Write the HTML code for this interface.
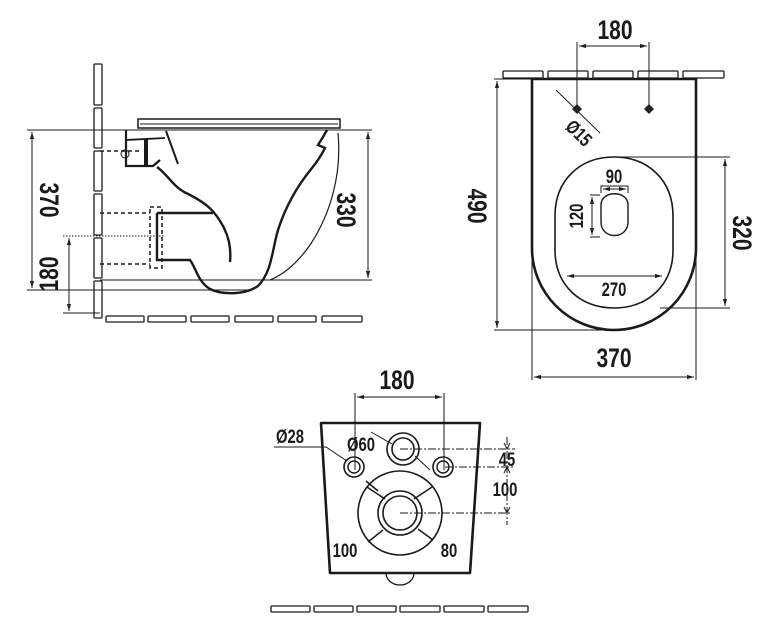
<!DOCTYPE html>
<html><head><meta charset="utf-8"><style>
html,body{margin:0;padding:0;background:#fff;}
svg{display:block;}
text{font-family:"Liberation Sans",sans-serif;font-weight:bold;fill:#1a1a1a;}
</style></head><body>
<svg width="777" height="640" viewBox="0 0 777 640" xmlns="http://www.w3.org/2000/svg">
<defs>
<marker id="a" viewBox="0 0 10 10" refX="10" refY="5" markerWidth="7" markerHeight="7" orient="auto-start-reverse"><path d="M0,2 L10,5 L0,8z" fill="#222"/></marker>
</defs>
<g stroke="#1a1a1a" fill="none">

<!-- SIDE VIEW -->
<g stroke-width="1.3" fill="#fff">
<rect x="94" y="64" width="8" height="41" rx="1"/>
<rect x="94" y="108" width="8" height="40" rx="1"/>
<rect x="94" y="151" width="8" height="40" rx="1"/>
<rect x="94" y="194" width="8" height="41" rx="1"/>
<rect x="94" y="238" width="8" height="40" rx="1"/>
<rect x="94" y="281" width="8" height="37" rx="1"/>
<rect x="106" y="316" width="38" height="6" rx="1"/>
<rect x="148" y="316" width="38" height="6" rx="1"/>
<rect x="191" y="316" width="38" height="6" rx="1"/>
<rect x="235" y="316" width="38" height="6" rx="1"/>
<rect x="278" y="316" width="38" height="6" rx="1"/>
<rect x="322" y="316" width="40" height="6" rx="1"/>
</g>
<g stroke-width="1">
<line x1="27" y1="130" x2="372" y2="130"/>
<line x1="100" y1="280" x2="372" y2="280"/>
<line x1="27" y1="290" x2="250" y2="290"/>
<line x1="63" y1="236" x2="165" y2="236" stroke-dasharray="1.5,1.5"/>
<line x1="63" y1="313" x2="100" y2="313"/>
<line x1="32" y1="132" x2="32" y2="288" marker-start="url(#a)" marker-end="url(#a)"/>
<line x1="69" y1="238" x2="69" y2="311" marker-start="url(#a)" marker-end="url(#a)"/>
<line x1="368" y1="132" x2="368" y2="278" marker-start="url(#a)" marker-end="url(#a)"/>
</g>
<rect x="138" y="119" width="202" height="9" stroke-width="1.5" fill="#fff"/>
<line x1="140" y1="124" x2="338" y2="124" stroke-width="1"/>
<path d="M126,130 L126,166 L153,166 L160,160" stroke-width="2.2"/>
<path d="M126,140 L165,138" stroke-width="1.8"/>
<line x1="146" y1="139" x2="146" y2="166" stroke-width="4"/>
<line x1="100" y1="151" x2="140" y2="151" stroke-width="1.5" stroke-dasharray="4,3"/>
<circle cx="125" cy="154" r="4" stroke-width="1"/>
<path d="M166,131 L178,164" stroke-width="2"/>
<path d="M157,167 C168,175 172,185 184,192 C205,202 215,210 224,228 C230,240 231,252 230,262" stroke-width="2.4"/>
<path d="M157,213 L213,213" stroke-width="2.4"/>
<path d="M157,213 L157,260 L190,260 C196,268 198,282 210,289 C222,295 245,295 258,286 C272,272 272,250 278,230 C286,205 298,185 312,168 C320,158 324,150 325,148 L318,145 L323,137 L327,130" stroke-width="2.4"/>
<path d="M338,133 C342,175 330,215 310,245 C298,262 285,274 270,280" stroke-width="1.2"/>
<rect x="150" y="207" width="12" height="61" stroke-width="1.5" stroke-dasharray="4,3"/>
<line x1="100" y1="213" x2="150" y2="213" stroke-width="1.5" stroke-dasharray="4,3"/>
<line x1="100" y1="264" x2="150" y2="264" stroke-width="1.5" stroke-dasharray="4,3"/>

<!-- TOP VIEW -->
<g stroke-width="1.3" fill="#fff">
<rect x="503" y="71" width="40" height="7" rx="1"/>
<rect x="548" y="71" width="40" height="7" rx="1"/>
<rect x="593" y="71" width="40" height="7" rx="1"/>
<rect x="638" y="71" width="40" height="7" rx="1"/>
<rect x="683" y="71" width="41" height="7" rx="1"/>
</g>
<line x1="494" y1="79" x2="696" y2="79" stroke-width="1"/>
<path d="M532,79 L696,79 L696,248 A82,82 0 0 1 532,248 Z" stroke-width="2.6" fill="#fff"/>
<g stroke-width="1">
<line x1="577" y1="42" x2="577" y2="108"/>
<line x1="649" y1="42" x2="649" y2="108"/>
<line x1="579" y1="46" x2="647" y2="46" marker-start="url(#a)" marker-end="url(#a)"/>
<line x1="556" y1="90" x2="600" y2="133"/>
<line x1="497" y1="81" x2="497" y2="328" marker-start="url(#a)" marker-end="url(#a)"/>
<line x1="494" y1="330" x2="614" y2="330"/>
<line x1="614" y1="157" x2="730" y2="157"/>
<line x1="660" y1="308" x2="730" y2="308"/>
<line x1="725" y1="159" x2="725" y2="306" marker-start="url(#a)" marker-end="url(#a)"/>
<line x1="532" y1="248" x2="532" y2="380"/>
<line x1="696" y1="248" x2="696" y2="380"/>
<line x1="534" y1="377" x2="694" y2="377" marker-start="url(#a)" marker-end="url(#a)"/>
<line x1="567" y1="276" x2="662" y2="276" marker-start="url(#a)" marker-end="url(#a)"/>
<path d="M601,193 L601,186 L628,186 L628,193"/>
<line x1="603" y1="189" x2="626" y2="189" marker-start="url(#a)" marker-end="url(#a)"/>
<path d="M600,195 L590,195 M600,237 L590,237"/>
<line x1="592" y1="197" x2="592" y2="235" marker-start="url(#a)" marker-end="url(#a)"/>
</g>
<path d="M577,104 L582,109 L577,114 L572,109Z" fill="#222" stroke="none"/>
<path d="M649,104 L654,109 L649,114 L644,109Z" fill="#222" stroke="none"/>
<path d="M555,216 C555,180 580,157 614,157 C648,157 673,180 673,216 L673,250 C673,285 648,308 614,308 C580,308 555,285 555,250 Z" stroke-width="1.6"/>
<path d="M601,205 C601,190 628,190 628,205 L628,222 C628,240 601,240 601,222 Z" stroke-width="1.4"/>

<!-- REAR VIEW -->
<g stroke-width="1.3" fill="#fff">
<rect x="271" y="606" width="39" height="6" rx="1"/>
<rect x="314" y="606" width="39" height="6" rx="1"/>
<rect x="357" y="606" width="39" height="6" rx="1"/>
<rect x="400" y="606" width="40" height="6" rx="1"/>
<rect x="444" y="606" width="40" height="6" rx="1"/>
<rect x="488" y="606" width="40" height="6" rx="1"/>
</g>
<path d="M386,573 A14,12 0 0 0 414,573" stroke-width="1.3"/>
<path d="M321,423 L480,423 L470,573 L330,573 Z" stroke-width="2.6" stroke-linejoin="round" fill="#fff"/>
<g stroke-width="1">
<line x1="355" y1="393" x2="355" y2="470"/>
<line x1="444" y1="393" x2="444" y2="470"/>
<line x1="357" y1="397" x2="442" y2="397" marker-start="url(#a)" marker-end="url(#a)"/>
<path d="M274,447 L326,447 L347,461"/>
<line x1="371" y1="432" x2="392" y2="444"/>
<line x1="415" y1="456" x2="430" y2="470"/>
<path d="M400,449 L515,449 M445,467 L515,467 M400,513 L510,513" stroke-dasharray="8,2,2,2"/>
<line x1="507" y1="437" x2="507" y2="525" stroke-dasharray="8,2,2,2"/>
</g>
<path d="M504,443 L507,449 L510,443 M504,473 L507,467 L510,473 M504,507 L507,513 L510,507" stroke-width="1"/>
<circle cx="403" cy="449" r="16" stroke-width="1.6"/>
<circle cx="403" cy="449" r="11" stroke-width="1.6"/>
<circle cx="354" cy="467" r="10" stroke-width="1.6"/>
<circle cx="354" cy="467" r="6" stroke-width="1.4"/>
<circle cx="443" cy="467" r="10" stroke-width="1.6"/>
<circle cx="443" cy="467" r="6" stroke-width="1.4"/>
<circle cx="400" cy="513" r="42" stroke-width="1.6"/>
<circle cx="400" cy="513" r="22" stroke-width="1.6"/>
<circle cx="400" cy="513" r="17" stroke-width="1.6"/>
<g stroke-width="1.5">
<line x1="366" y1="481" x2="378" y2="491"/>
<line x1="367" y1="487" x2="385" y2="499"/>
<line x1="432" y1="487" x2="414" y2="499"/>
<line x1="433" y1="540" x2="418" y2="529"/>
<line x1="368" y1="542" x2="383" y2="530"/>
</g>
</g>

<!-- TEXT -->
<g font-size="27">
<text x="0" y="0" transform="translate(615,39) scale(0.78,1)" text-anchor="middle">180</text>
<text x="0" y="0" transform="translate(397,389) scale(0.78,1)" text-anchor="middle">180</text>
<text x="0" y="0" transform="translate(614,367) scale(0.78,1)" text-anchor="middle">370</text>
<text x="0" y="0" transform="translate(468,206) rotate(90) scale(0.78,1)" text-anchor="middle">490</text>
<text x="0" y="0" transform="translate(733,233) rotate(90) scale(0.78,1)" text-anchor="middle">320</text>
<text x="0" y="0" transform="translate(40,200) rotate(90) scale(0.78,1)" text-anchor="middle">370</text>
<text x="0" y="0" transform="translate(337,210) rotate(90) scale(0.78,1)" text-anchor="middle">330</text>
<text x="0" y="0" transform="translate(58,274) rotate(-90) scale(0.78,1)" text-anchor="middle">180</text>
</g>
<g font-size="19">
<text x="0" y="0" transform="translate(614,183) scale(0.78,1)" text-anchor="middle">90</text>
<text x="0" y="0" transform="translate(614,296) scale(0.78,1)" text-anchor="middle">270</text>
<text x="0" y="0" transform="translate(583,216) rotate(-90) scale(0.78,1)" text-anchor="middle">120</text>
<text x="0" y="0" transform="translate(580,132) rotate(45) scale(0.78,1)" text-anchor="middle" dominant-baseline="middle" dy="3">Ø15</text>
<text x="0" y="0" transform="translate(290,443) scale(0.78,1)" text-anchor="middle">Ø28</text>
<text x="0" y="0" transform="translate(361,451) scale(0.78,1)" text-anchor="middle">Ø60</text>
<text x="0" y="0" transform="translate(507,466) scale(0.78,1)" text-anchor="middle">45</text>
<text x="0" y="0" transform="translate(505,496) scale(0.78,1)" text-anchor="middle">100</text>
<text x="0" y="0" transform="translate(345,557) scale(0.78,1)" text-anchor="middle">100</text>
<text x="0" y="0" transform="translate(449,557) scale(0.78,1)" text-anchor="middle">80</text>
</g>
</svg>
</body></html>
